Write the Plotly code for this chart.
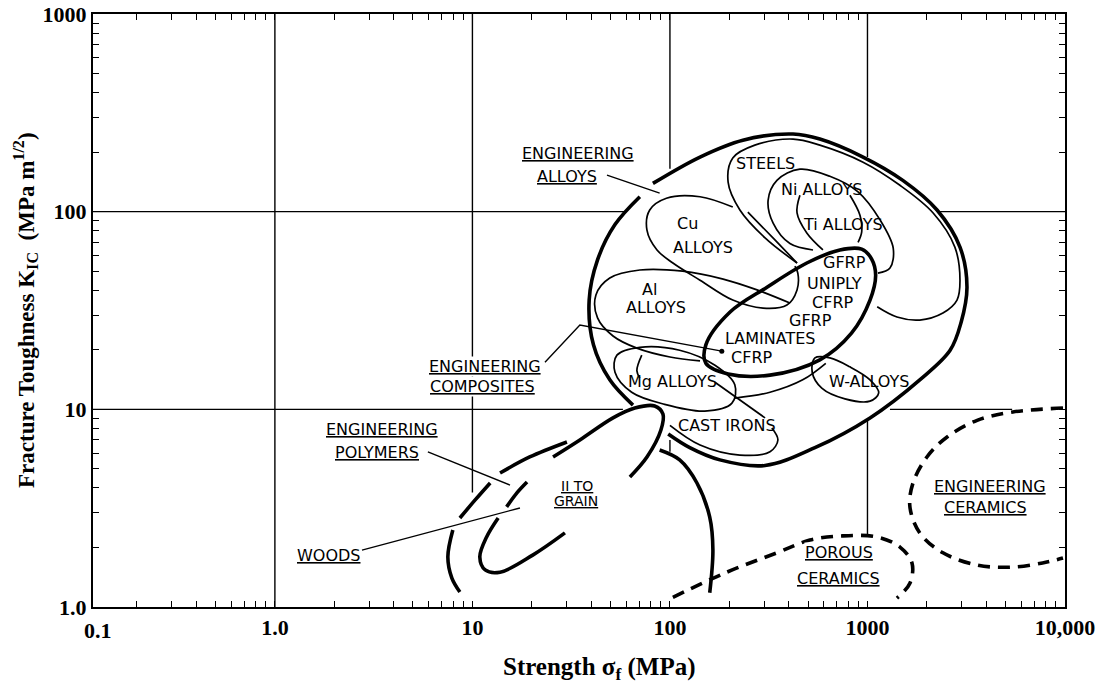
import numpy as np
import plotly.graph_objects as go

# ---------------- axis decades / tick labels ----------------
x_decades = [1, 10, 100, 1000, 10000]
x_decade_labels = ["1.0", "10", "100", "1000", "10,000"]
y_decades = [1, 10, 100, 1000]
y_decade_labels = ["1.0", "10", "100", "1000"]
x_min = 0.12          # left edge of the drawn strength axis (0.1 label sits at the frame)
x_max = 10000
y_min, y_max = 1, 1000

# ---------------- region outlines (strength MPa, toughness MPa m^1/2) ----------------
# Engineering alloys envelope (thick)
alloys_a_s = [82, 142, 234, 420, 574, 950, 1510, 2250, 2940, 3190, 2980, 2620, 1840, 1030, 542, 303, 179, 126, 98]
alloys_a_k = [139, 189, 230, 247, 233, 189, 144, 102, 66.2, 41.5, 27.6, 19.9, 14.1, 9.05, 6.4, 5.2, 5.55, 6.4, 7.5]
alloys_b_s = [70.4, 52.7, 43, 39, 41, 49.6, 65]
alloys_b_k = [119, 86, 57, 35.7, 21.2, 14.1, 10.5]

# Steels
steels_s = [440, 303, 226, 197, 208, 269, 420, 574, 950, 1460, 2150, 2770, 2940, 2840, 2410, 1840, 1410, 1120]
steels_k = [55, 73.7, 102, 141, 187, 217, 233, 217, 178, 136, 98.5, 66.2, 45, 35.7, 30.7, 28.3, 29.3, 33]
steels_lens_s = [248, 340, 440]
steels_lens_k = [99.5, 72, 55]

# Ni alloys
ni_s = [530, 405, 333, 314, 348, 455, 645, 896, 1160, 1350, 1300, 1130]
ni_k = [64, 69, 87.5, 114, 144, 164, 151, 126, 90.6, 65.4, 51.9, 48.9]

# Ti alloys (two flanks)
ti_left_s = [455, 440, 493, 595]
ti_left_k = [121, 98.5, 78, 64]
ti_right_s = [815, 916, 935, 896]
ti_right_k = [121, 96, 79, 70]

# Cu alloys
cu_s = [208, 142, 96, 79, 76.5, 86, 103.5, 142, 208, 296, 391, 440, 444, 429]
cu_k = [105.5, 119, 117, 102, 80.7, 64, 55, 45, 35.7, 32.5, 33.7, 40.2, 48.9, 53]

# Al alloys
al_s = [405, 276, 186, 116, 70.4, 49.6, 42.2, 43, 51.5, 68, 100, 142]
al_k = [34.5, 40.2, 45.6, 50, 50.7, 46.2, 37.9, 29, 23.5, 20.4, 18.4, 17.6]

# GFRP / CFRP composites (thick, closed)
comp_s = [1050, 1100, 1030, 830, 574, 321, 197, 152, 152, 201, 310, 493, 725, 935]
comp_k = [57.6, 47.7, 35.7, 24.3, 17.8, 14.9, 15.1, 17.1, 21.2, 31, 41.5, 55, 64, 64.6]

# Mg alloys (closed) and inner arc
mg_s = [53.9, 70.4, 112, 169, 213, 206, 150, 94, 64, 52.7]
mg_k = [18.8, 20.6, 19.9, 16.7, 13.3, 10.75, 9.8, 10.6, 12.2, 15.4]
mg_arc_s = [72, 68, 70.4]
mg_arc_k = [18.8, 15.7, 14.4]

# Cast irons
cast_s = [100, 142, 226, 321, 352, 328]
cast_k = [8.3, 6.6, 5.87, 6.1, 7.0, 8.05]
cast_top_s = [213, 321, 470, 615]
cast_top_k = [11.4, 12.2, 14.1, 17.1]
cast_link_s = [169, 303]
cast_link_k = [13.7, 9.05]

# W alloys (closed)
w_s = [542, 525, 587, 769, 1030, 1140, 1030, 815, 645]
w_k = [18.2, 15.4, 12.8, 11.3, 11.0, 12.1, 14.1, 16.4, 18.2]

# Engineering polymers (thick, broken strokes)
poly_1_s = [13.8, 19.5, 30.1]
poly_1_k = [4.76, 5.74, 6.84]
poly_2_s = [8.64, 10.3, 12.3]
poly_2_k = [2.82, 3.47, 4.24]
poly_3_s = [7.96, 7.51, 7.87, 8.64]
poly_3_k = [2.45, 1.79, 1.40, 1.19]
poly_4_s = [88.7, 112, 137, 159, 165, 159]
poly_4_k = [6.23, 5.55, 4.24, 2.85, 1.94, 1.18]

# Woods (thick, broken strokes)
wood_1_s = [25.6, 35, 51.5, 66.4, 83.7, 92.2, 90, 76.5, 62.7]
wood_1_k = [5.74, 7.0, 9.05, 10.15, 10.4, 9.46, 7.86, 5.74, 4.55]
wood_2_s = [18.9, 16.8, 14.9]
wood_2_k = [4.29, 3.78, 3.21]
wood_3_s = [13.5, 11.8, 10.9, 11.6, 13.8, 20.2, 29.4]
wood_3_k = [2.82, 2.26, 1.79, 1.54, 1.50, 1.83, 2.37]

# Ceramics (dashed)
porous_s = [103.5, 194, 348, 511, 750, 1120, 1460, 1680, 1640, 1410]
porous_k = [1.12, 1.50, 1.88, 2.18, 2.29, 2.26, 2.01, 1.67, 1.32, 1.11]
ceram_s = [9770, 5450, 3590, 2530, 2000, 1700, 1640, 1840, 2410, 3590, 5270, 7700, 9770]
ceram_k = [10.15, 9.7, 8.8, 7.25, 5.74, 4.24, 3.21, 2.37, 1.88, 1.63, 1.59, 1.67, 1.77]

# Leader lines
lead_alloys_s = [48, 88.7]
lead_alloys_k = [153, 124]
lead_comp_s = [23.3, 35, 183]
lead_comp_k = [17.3, 26.7, 19.7]
lead_poly_s = [5.95, 15.5]
lead_poly_k = [6.09, 4.14]
lead_woods_s = [2.76, 17.4]
lead_woods_k = [1.94, 3.17]

# Grid line segments (interrupted by the regions)
grid_v_s = [1, 10, 100, 100, 1000, 1000]
grid_v_k0 = [1, 3.8, 165, 6.1, 189, 2.3]
grid_v_k1 = [1000, 1000, 1000, 7.0, 1000, 8.8]
grid_h_k = [100, 100, 10, 10]
grid_h_s0 = [0.1, 2330, 0.1, 1300]
grid_h_s1 = [60, 10000, 57.8, 5400]

# Labels
region_text = ["STEELS", "Ni ALLOYS", "Ti ALLOYS", "Cu", "ALLOYS", "Al", "ALLOYS",
               "GFRP", "UNIPLY", "CFRP", "GFRP", "LAMINATES", "CFRP",
               "Mg ALLOYS", "W-ALLOYS", "CAST IRONS"]
region_s = [303, 587, 750, 122, 147, 79, 85, 769, 677, 668, 517, 321, 260, 103.5, 1020, 194]
region_k = [176, 130, 85.8, 86.7, 66.2, 40.6, 32.9, 55, 43.5, 34.9, 28.3, 22.7, 18.2, 13.9, 13.9, 8.3]

group_text = ["ENGINEERING", "ALLOYS", "ENGINEERING", "COMPOSITES", "ENGINEERING", "POLYMERS",
              "WOODS", "POROUS", "CERAMICS", "ENGINEERING", "CERAMICS"]
group_s = [34.2, 30.1, 11.6, 11.3, 3.48, 3.28, 1.86, 717, 717, 4170, 3980]
group_k = [198, 150, 16.4, 13.0, 7.95, 6.02, 1.83, 1.88, 1.40, 4.05, 3.17]

grain_text = ["II TO", "GRAIN"]
grain_s = [33.8, 33.4]
grain_k = [4.09, 3.44]

# ---------------- figure ----------------
fig = go.Figure()


def curve(s, k, width, dash="solid", closed=False, smooth=True):
    s = list(s)
    k = list(k)
    if closed:
        s = s + s[:1]
        k = k + k[:1]
    fig.add_trace(go.Scatter(
        x=s, y=k, mode="lines",
        line=dict(color="black", width=width, dash=dash,
                  shape="spline" if smooth else "linear", smoothing=1.0),
        hoverinfo="skip", showlegend=False))


GRID_W = 1.4
THICK = 3.6
THIN = 1.7
DASH = "12px,8px"

# grid segments
for s, k0, k1 in zip(grid_v_s, grid_v_k0, grid_v_k1):
    curve([s, s], [k0, k1], GRID_W, smooth=False)
for k, s0, s1 in zip(grid_h_k, grid_h_s0, grid_h_s1):
    curve([s0, s1], [k, k], GRID_W, smooth=False)

# thick envelopes
curve(alloys_a_s, alloys_a_k, THICK)
curve(alloys_b_s, alloys_b_k, THICK)
curve(comp_s, comp_k, THICK, closed=True)
for s, k in [(poly_1_s, poly_1_k), (poly_2_s, poly_2_k), (poly_3_s, poly_3_k), (poly_4_s, poly_4_k),
             (wood_1_s, wood_1_k), (wood_2_s, wood_2_k), (wood_3_s, wood_3_k)]:
    curve(s, k, THICK)

# thin material regions
curve(steels_s, steels_k, THIN)
curve(steels_lens_s, steels_lens_k, THIN)
curve(ni_s, ni_k, THIN)
curve(ti_left_s, ti_left_k, THIN)
curve(ti_right_s, ti_right_k, THIN)
curve(cu_s, cu_k, THIN)
curve(al_s, al_k, THIN)
curve(mg_s, mg_k, THIN, closed=True)
curve(mg_arc_s, mg_arc_k, THIN)
curve(cast_s, cast_k, THIN)
curve(cast_top_s, cast_top_k, THIN)
curve(cast_link_s, cast_link_k, THIN, smooth=False)
curve(w_s, w_k, THIN, closed=True)

# dashed ceramics
curve(porous_s, porous_k, THICK, dash=DASH)
curve(ceram_s, ceram_k, THICK, dash=DASH)

# leaders
for s, k in [(lead_alloys_s, lead_alloys_k), (lead_comp_s, lead_comp_k),
             (lead_poly_s, lead_poly_k), (lead_woods_s, lead_woods_k)]:
    curve(s, k, 1.4, smooth=False)
fig.add_trace(go.Scatter(x=lead_comp_s[-1:], y=lead_comp_k[-1:], mode="markers",
                         marker=dict(color="black", size=5), hoverinfo="skip", showlegend=False))

# ---------------- labels ----------------
LABEL_FONT = dict(family="DejaVu Sans", size=16, color="black")
ann = []
for t, s, k in zip(region_text, region_s, region_k):
    ann.append(dict(x=np.log10(s), y=np.log10(k), xref="x", yref="y", text=t,
                    showarrow=False, font=LABEL_FONT, xanchor="center", yanchor="middle"))
for t, s, k in zip(group_text, group_s, group_k):
    ann.append(dict(x=np.log10(s), y=np.log10(k), xref="x", yref="y", text="<u>" + t + "</u>",
                    showarrow=False, font=LABEL_FONT, xanchor="center", yanchor="middle",
                    bgcolor="white", borderpad=0))
for t, s, k in zip(grain_text, grain_s, grain_k):
    ann.append(dict(x=np.log10(s), y=np.log10(k), xref="x", yref="y", text="<u>" + t + "</u>",
                    showarrow=False, font=dict(family="DejaVu Sans", size=14, color="black"),
                    xanchor="center", yanchor="middle"))

TICK_FONT = dict(family="Liberation Serif", size=22, color="black")
# 0.1 label at the left frame
ann.append(dict(x=0, y=0, xref="paper", yref="paper", text="<b>0.1</b>", showarrow=False,
                font=TICK_FONT, xanchor="center", yanchor="middle", yshift=-23, xshift=5))
# axis titles
ann.append(dict(x=0.5206, y=-0.1029, xref="paper", yref="paper",
                text="<b>Strength σ<sub>f</sub> (MPa)</b>", showarrow=False,
                font=dict(family="Liberation Serif", size=25, color="black"),
                xanchor="center", yanchor="middle"))
ann.append(dict(x=-0.070, y=0.5008, xref="paper", yref="paper", textangle=-90,
                text="<b>Fracture Toughness K<sub>IC</sub>  (MPa m<sup>1/2</sup>)</b>", showarrow=False,
                font=dict(family="Liberation Serif", size=23, color="black"),
                xanchor="center", yanchor="middle"))

# ---------------- axes ----------------
x_tickvals = [v for v in x_decades if v >= x_min]
x_ticktext = ["<b>" + t + "</b>" for v, t in zip(x_decades, x_decade_labels) if v >= x_min]
x_minor = [m * 10 ** e for e in range(-1, 4) for m in range(2, 10) if m * 10 ** e >= x_min]
y_tickvals = list(y_decades)
y_ticktext = ["<b>" + t + "</b>" for t in y_decade_labels]
y_minor = [m * 10 ** e for e in range(0, 3) for m in range(2, 10)]

axis_common = dict(type="log", tickmode="array", ticks="inside", ticklen=6, tickwidth=1.3,
                   tickcolor="black", showline=True, linecolor="black", linewidth=2,
                   mirror="ticks", showgrid=False, zeroline=False, tickfont=TICK_FONT,
                   tickangle=0, automargin=False)

fig.update_layout(
    width=1099, height=683,
    margin=dict(l=93, r=34, t=14, b=76, autoexpand=False),
    paper_bgcolor="white", plot_bgcolor="white",
    xaxis=dict(range=[np.log10(x_min), np.log10(x_max)], tickvals=x_tickvals, ticktext=x_ticktext,
               minor=dict(tickmode="array", tickvals=x_minor, ticks="inside", ticklen=6,
                          tickwidth=1.3, tickcolor="black", showgrid=False),
               **axis_common),
    yaxis=dict(range=[np.log10(y_min), np.log10(y_max)], tickvals=y_tickvals, ticktext=y_ticktext,
               minor=dict(tickmode="array", tickvals=y_minor, ticks="inside", ticklen=6,
                          tickwidth=1.3, tickcolor="black", showgrid=False),
               **axis_common),
    annotations=ann,
    showlegend=False,
)

fig.write_html("out.html", config={"displayModeBar": False},
               post_script="document.body.style.margin='0';")
